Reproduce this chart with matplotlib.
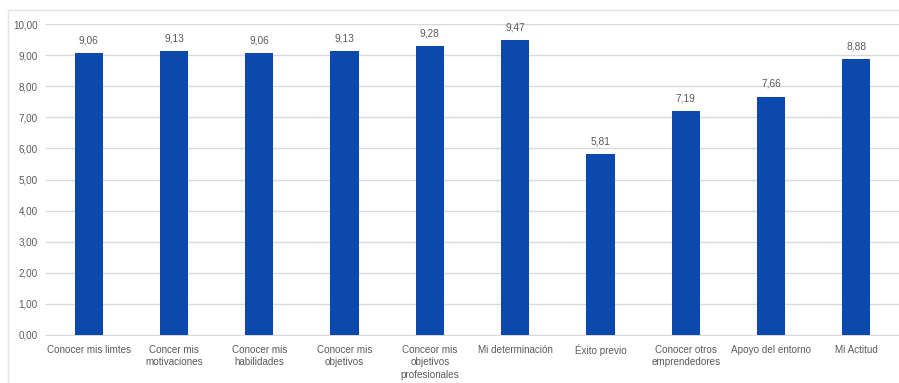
import matplotlib.pyplot as plt
from matplotlib.patches import Rectangle

plt.rcParams['font.family'] = ['Liberation Sans', 'DejaVu Sans']

categories = [
    "Conocer mis limtes",
    "Concer mis\nmotivaciones",
    "Conocer mis\nhabilidades",
    "Conocer mis\nobjetivos",
    "Conceor mis\nobjetivos\nprofesionales",
    "Mi determinación",
    "Éxito previo",
    "Conocer otros\nemprendedores",
    "Apoyo del entorno",
    "Mi Actitud",
]
values = [9.06, 9.13, 9.06, 9.13, 9.28, 9.47, 5.81, 7.19, 7.66, 8.88]
y_ticks = [0, 1, 2, 3, 4, 5, 6, 7, 8, 9, 10]

bar_color = "#0B49AD"
text_color = "#595959"
grid_color = "#D9D9D9"

fig = plt.figure(figsize=(8.99, 3.83), dpi=100)
# outer chart border
fig.patches.append(Rectangle((8 / 899, -0.01), 1.0, 1 - 10 / 383 + 0.01,
                             transform=fig.transFigure, fill=False,
                             edgecolor="#E3E3E3", linewidth=1.0))

ax = fig.add_axes([46 / 899, 1 - 335 / 383, 1 - 46 / 899, (335 - 24) / 383])
x = range(len(categories))
ax.bar(x, values, width=0.33, color=bar_color, zorder=3)

for xi, v in zip(x, values):
    ax.text(xi, v + 0.25, f"{v:.2f}".replace(".", ","), ha="center", va="bottom",
            fontsize=7.3, color=text_color)

ax.set_ylim(0, 10)
ax.set_xlim(-0.5, len(categories) - 0.5)
ax.set_yticks(y_ticks)
ax.set_yticklabels([f"{t:.2f}".replace(".", ",") for t in y_ticks])
ax.set_xticks(list(x))
ax.set_xticklabels(categories, linespacing=1.3)
ax.tick_params(axis="both", length=0, labelsize=7.1, colors=text_color)
ax.tick_params(axis="x", pad=7)
ax.tick_params(axis="y", pad=6)

ax.grid(axis="y", color=grid_color, linewidth=1.0, zorder=0)
for side in ["top", "right", "left"]:
    ax.spines[side].set_visible(False)
ax.spines["bottom"].set_color(grid_color)

fig.savefig("out.png", dpi=100)
